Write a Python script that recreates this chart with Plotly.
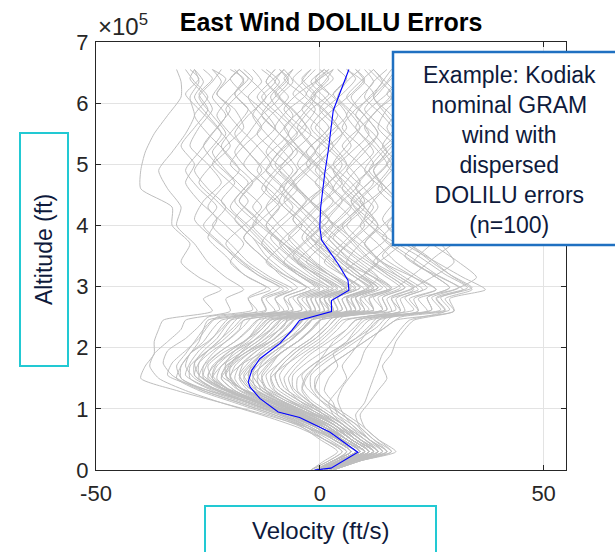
import plotly.graph_objects as go

# Altitude levels (ft) for the two sampling grids of the dispersed profiles
ALT_FT_A = [0, 15000, 30000, 50000, 70000, 90000, 110000, 130000, 150000, 170000,
            190000, 210000, 230000, 245000, 260000, 280000, 295000, 315000, 340000, 370000,
            400000, 430000, 460000, 490000, 520000, 550000, 580000, 610000, 635000, 655000]
ALT_FT_B = [0, 15000, 30000, 50000, 75000, 95000, 115000, 135000, 155000, 175000,
            195000, 215000, 235000, 250000, 262000, 282000, 298000, 320000, 350000, 380000,
            410000, 440000, 470000, 500000, 530000, 560000, 590000, 615000, 640000, 655000]

# Dispersed DOLILU east-wind profiles (ft/s) sampled on grid A, one row per case
CASES_A = [
    [1, 6, 10, 4, -3, -12, -22, -32, -40, -39, -37, -37, -36, -35, -24, -26, -22, -27, -31, -29, -33, -33, -40, -40, -39, -37, -34, -31, -31, -32],
    [2, 7, 12, 8, 4, -1, -6, -10, -11, -8, -4, 0, 3, 5, 18, 16, 22, 18, 12, 8, 5, 9, 14, 12, 16, 20, 18, 22, 25, 23],
    [1, 6, 11, 7, 3, -2, -8, -12, -13, -11, -9, -5, -2, 0, 10, 9, 15, 12, 6, 9, 13, 10, 6, 3, 7, 11, 8, 4, 6, 9],
    [0, 4, 8, 4, -1, -7, -14, -20, -24, -25, -22, -17, -13, -11, 2, 1, 6, 3, -3, -8, -12, -9, -13, -10, -6, -9, -13, -10, -7, -9],
    [1, 7, 13, 9, 5, 1, -3, -6, -7, -5, -2, 2, 6, 8, 22, 20, 26, 21, 14, 10, 14, 18, 15, 11, 14, 18, 16, 12, 15, 17],
    [2, 6, 10, 6, 2, -4, -10, -15, -17, -15, -13, -9, -6, -4, 6, 5, 10, 13, 9, 4, 0, -4, -8, -5, -1, -4, -8, -11, -8, -6],
    [1, 6, 11, 8, 4, 0, -4, -7, -8, -6, -3, 1, 4, 6, 16, 15, 20, 25, 30, 27, 23, 26, 22, 25, 28, 24, 21, 24, 27, 25],
    [2, 8, 14, 10, 6, 2, -2, -5, -5, -2, 2, 6, 9, 11, 24, 22, 30, 35, 31, 25, 20, 24, 20, 24, 21, 17, 21, 25, 22, 24],
    [1, 5, 10, 6, 2, -3, -9, -14, -16, -14, -11, -7, -4, -2, 7, 6, 11, 8, 3, 6, 10, 7, 3, 6, 10, 13, 10, 6, 9, 12],
    [3, 9, 16, 12, 9, 5, 2, -1, -1, 2, 6, 10, 14, 17, 30, 29, 37, 32, 26, 19, 15, 18, 14, 10, 13, 17, 14, 10, 12, 15],
    [-1, 3, 6, 2, -3, -9, -16, -23, -28, -30, -29, -25, -22, -20, -8, -10, -6, -11, -16, -20, -24, -21, -25, -28, -25, -22, -25, -28, -26, -28],
    [0, 4, 8, 4, 0, -6, -13, -20, -24, -22, -18, -14, -11, -9, 1, 0, 5, 1, -5, -1, 3, -1, -5, -9, -6, -2, -5, -9, -12, -10],
    [0, 5, 10, 6, 1, -6, -14, -21, -26, -26, -24, -21, -18, -17, -3, -5, 0, -4, -9, -13, -10, -6, -10, -14, -11, -7, -10, -14, -11, -8],
    [-1, 3, 7, 3, -2, -9, -17, -25, -31, -31, -29, -26, -24, -22, -10, -12, -7, -12, -17, -21, -17, -13, -17, -21, -24, -21, -24, -27, -24, -22],
    [0, 5, 9, 5, 1, -5, -12, -17, -19, -18, -15, -11, -8, -6, 4, 3, 8, 4, -1, -5, -9, -12, -9, -5, -8, -12, -15, -12, -9, -12],
    [-1, 3, 6, 1, -5, -13, -22, -30, -36, -38, -37, -34, -31, -30, -20, -21, -17, -21, -25, -28, -32, -31, -34, -36, -33, -30, -28, -29, -27, -28],
    [0, 4, 9, 5, 0, -6, -13, -19, -22, -21, -17, -13, -10, -8, 2, 0, 5, 9, 13, 10, 6, 10, 7, 3, -1, 2, 6, 3, -1, 2],
    [0, 5, 10, 6, 1, -6, -14, -21, -24, -23, -20, -16, -13, -11, -1, -2, 3, -2, -7, -11, -15, -12, -8, -12, -16, -19, -16, -12, -15, -18],
    [-1, 3, 7, 3, -2, -8, -16, -24, -29, -29, -26, -22, -19, -17, -6, -7, -2, -7, -12, -8, -4, -8, -12, -9, -5, -9, -13, -16, -13, -15],
    [0, 4, 8, 4, -1, -7, -14, -21, -25, -24, -21, -17, -14, -12, -2, -3, 2, -3, -8, -4, 0, -4, -8, -12, -9, -5, -9, -13, -10, -13],
    [1, 5, 10, 6, 2, -4, -11, -16, -18, -16, -13, -9, -6, -4, 6, 5, 10, 6, 1, 5, 9, 13, 10, 6, 9, 13, 10, 7, 10, 8],
    [1, 6, 11, 7, 3, -2, -8, -13, -14, -12, -9, -5, -2, 0, 12, 11, 16, 12, 7, 3, -1, -5, -9, -6, -10, -14, -11, -7, -10, -8],
    [0, 5, 9, 5, 0, -6, -13, -19, -22, -20, -17, -12, -9, -7, 3, 2, 7, 3, -2, -7, -11, -15, -12, -16, -19, -16, -13, -9, -12, -10],
    [-2, 2, 5, 1, -4, -11, -19, -27, -32, -31, -29, -27, -26, -25, -14, -16, -11, -16, -20, -17, -21, -25, -22, -18, -21, -25, -28, -25, -28, -30],
    [0, 5, 10, 6, 1, -5, -12, -18, -20, -19, -16, -12, -9, -7, 3, 1, 6, 2, -3, 1, 5, 9, 5, 1, -3, 1, 4, 1, -2, 1],
    [2, 8, 15, 12, 9, 8, 10, 11, 12, 13, 14, 16, 18, 20, 28, 26, 32, 27, 21, 25, 29, 26, 22, 25, 21, 18, 21, 24, 21, 23],
    [1, 7, 13, 10, 6, 3, 2, 4, 6, 5, 7, 9, 11, 13, 22, 21, 26, 22, 17, 13, 9, 12, 8, 11, 15, 12, 8, 11, 14, 12],
    [2, 8, 14, 11, 7, 4, 3, 1, 2, 4, 3, 6, 8, 10, 19, 18, 23, 19, 14, 10, 13, 9, 5, 8, 12, 9, 6, 9, 12, 10],
    [1, 7, 12, 9, 5, 1, -2, -4, -3, -1, 1, 3, 6, 8, 18, 17, 21, 17, 12, 16, 20, 17, 13, 16, 19, 22, 19, 16, 19, 17],
    [3, 9, 16, 13, 10, 9, 11, 13, 15, 14, 16, 17, 19, 21, 30, 28, 34, 30, 25, 20, 16, 19, 15, 12, 15, 18, 15, 12, 14, 16],
    [0, 5, 10, 6, 1, -5, -11, -17, -20, -20, -18, -15, -12, -10, 1, 0, 5, 1, -4, -8, -12, -9, -5, -8, -12, -9, -6, -9, -6, -8],
    [-1, 4, 8, 4, -1, -8, -16, -23, -27, -26, -23, -19, -16, -14, -2, -4, 1, -3, -8, -12, -16, -20, -17, -13, -16, -20, -23, -20, -17, -19],
    [1, 6, 11, 7, 3, -3, -9, -14, -15, -13, -10, -7, -4, -2, 8, 7, 12, 8, 3, -1, 3, 7, 3, -1, 2, 5, 2, -2, 1, 3],
    [0, 5, 9, 5, 0, -6, -13, -20, -23, -22, -19, -15, -12, -10, 0, -1, 4, 0, -5, -9, -5, -1, 3, 0, -4, -7, -4, -1, -4, -2],
    [-1, 3, 7, 3, -3, -10, -18, -26, -31, -32, -30, -28, -26, -24, -12, -13, -8, -13, -18, -22, -26, -23, -27, -30, -27, -24, -21, -24, -22, -24],
]

# Dispersed DOLILU east-wind profiles (ft/s) sampled on grid B, one row per case
CASES_B = [
    [0, 5, 9, 6, 1, -5, -11, -18, -22, -20, -16, -12, -8, -7, 8, 6, 12, 9, 4, -2, -6, -3, 2, 5, 1, -4, -8, -5, 0, 3],
    [-1, 3, 7, 3, -2, -9, -17, -25, -30, -29, -27, -24, -22, -20, -6, -8, -3, -7, -12, -15, -19, -16, -20, -24, -21, -17, -19, -23, -20, -18],
    [3, 9, 15, 11, 8, 4, 0, -3, -4, -1, 3, 8, 12, 14, 28, 26, 33, 28, 22, 15, 10, 12, 16, 20, 17, 13, 15, 19, 22, 20],
    [-2, 2, 5, 1, -4, -10, -18, -27, -34, -33, -30, -27, -25, -23, -12, -13, -9, -14, -19, -24, -28, -26, -22, -25, -29, -27, -24, -26, -29, -28],
    [0, 5, 9, 5, 0, -6, -13, -19, -21, -19, -15, -10, -7, -5, 4, 3, 8, 5, 0, -4, -1, 3, -1, -5, -2, 2, -2, -6, -3, -1],
    [-1, 4, 8, 3, -2, -8, -15, -22, -27, -28, -26, -23, -21, -19, -9, -10, -5, -9, -13, -17, -14, -18, -15, -11, -14, -18, -21, -18, -15, -17],
    [0, 4, 9, 5, 1, -5, -12, -18, -20, -17, -12, -7, -3, -1, 12, 10, 16, 11, 5, 0, -4, -8, -5, -1, 3, 0, -4, -1, 3, 1],
    [-2, 1, 4, 0, -5, -12, -20, -28, -33, -35, -34, -30, -27, -25, -15, -16, -12, -17, -21, -25, -23, -27, -30, -28, -31, -28, -25, -27, -24, -26],
    [0, 5, 9, 5, 0, -7, -15, -22, -25, -23, -19, -14, -10, -8, 3, 2, 7, 2, -4, -10, -15, -19, -16, -20, -17, -13, -16, -19, -17, -20],
    [1, 6, 10, 6, 1, -5, -11, -16, -18, -16, -13, -9, -5, -3, 5, 4, 9, 5, 1, -3, 1, 5, 9, 6, 2, -2, 1, 5, 8, 6],
    [2, 7, 12, 8, 4, -1, -7, -11, -12, -9, -6, -2, 1, 3, 14, 13, 18, 14, 8, 3, 7, 3, -1, 3, 7, 4, 0, 3, 6, 4],
    [1, 6, 12, 8, 3, -2, -7, -12, -14, -13, -10, -6, -3, -1, 11, 9, 14, 10, 15, 20, 24, 21, 17, 20, 24, 27, 24, 20, 22, 25],
    [2, 7, 13, 9, 5, 1, -4, -8, -9, -7, -4, 0, 3, 5, 17, 16, 21, 17, 12, 7, 2, -2, 2, 6, 3, -1, 3, 7, 10, 8],
    [1, 6, 11, 7, 3, -3, -9, -13, -15, -12, -8, -4, -1, 1, 9, 8, 13, 9, 4, 0, 4, 8, 12, 9, 5, 9, 13, 16, 13, 11],
    [2, 8, 15, 11, 7, 3, 0, -2, -2, 1, 5, 9, 13, 15, 27, 25, 31, 26, 20, 14, 10, 7, 11, 15, 12, 8, 11, 15, 18, 16],
    [1, 5, 10, 6, 2, -4, -10, -15, -17, -15, -12, -8, -5, -3, 7, 6, 11, 7, 2, -2, -6, -2, 2, -1, -5, -8, -4, -1, -4, -2],
    [2, 7, 12, 9, 5, 1, -3, -6, -6, -3, 1, 5, 8, 10, 21, 19, 24, 20, 14, 18, 22, 19, 23, 27, 24, 20, 17, 20, 24, 22],
    [1, 6, 11, 7, 2, -4, -10, -16, -18, -17, -14, -10, -7, -5, 5, 4, 9, 5, 10, 15, 11, 7, 11, 15, 18, 14, 10, 13, 16, 19],
    [1, 6, 12, 8, 4, 0, -5, -9, -10, -8, -5, -1, 2, 4, 15, 14, 19, 15, 9, 4, 0, 4, 8, 12, 9, 5, 8, 12, 9, 6],
    [2, 7, 13, 10, 6, 2, -2, -4, -3, 0, 4, 8, 11, 13, 25, 24, 29, 25, 19, 24, 28, 25, 21, 24, 28, 25, 21, 18, 21, 24],
    [0, 5, 9, 5, 0, -7, -15, -23, -27, -27, -25, -22, -19, -17, -4, -6, -1, -5, -10, -14, -18, -22, -19, -23, -26, -23, -20, -23, -21, -24],
    [0, 4, 8, 4, -1, -8, -16, -24, -28, -27, -24, -20, -17, -15, -4, -5, 0, -5, -10, -15, -19, -23, -27, -24, -20, -23, -27, -30, -27, -29],
    [3, 9, 17, 13, 9, 5, 1, -1, 0, 3, 7, 11, 15, 18, 29, 27, 34, 29, 24, 18, 14, 17, 21, 18, 14, 17, 21, 24, 21, 19],
    [1, 6, 11, 7, 3, -3, -9, -14, -16, -14, -10, -6, -3, -1, 10, 8, 13, 8, 3, -2, 2, -2, -6, -2, 2, 6, 3, -1, 2, 0],
    [1, 6, 12, 8, 4, -1, -6, -10, -11, -9, -6, -2, 1, 3, 14, 12, 17, 21, 26, 31, 27, 23, 19, 22, 18, 15, 18, 22, 19, 17],
    [1, 6, 12, 8, 4, -2, -8, -13, -15, -14, -11, -7, -4, -2, 9, 8, 13, 9, 4, 8, 12, 9, 13, 16, 13, 10, 13, 17, 14, 12],
    [0, 4, 9, 5, 0, -7, -14, -21, -24, -23, -20, -16, -13, -11, -1, -2, 3, -1, -6, -2, 2, -2, -6, -10, -7, -3, -6, -10, -7, -9],
    [2, 7, 13, 9, 5, 0, -5, -9, -10, -8, -5, -1, 2, 4, 15, 14, 19, 15, 10, 6, 2, 5, 1, -3, 0, 4, 1, -3, 0, 2],
    [0, 5, 10, 6, 1, -5, -12, -18, -21, -20, -17, -13, -10, -8, 2, 1, 6, 2, -3, -7, -3, 1, 5, 2, -2, -5, -2, 2, -1, 1],
    [1, 6, 11, 7, 3, -3, -9, -14, -16, -15, -12, -8, -5, -3, 8, 7, 12, 8, 3, -1, -5, -9, -6, -2, -6, -10, -7, -3, -6, -4],
    [-1, 3, 7, 3, -2, -9, -17, -24, -28, -28, -25, -22, -20, -18, -7, -8, -3, -8, -13, -17, -13, -9, -13, -17, -14, -10, -13, -17, -20, -18],
    [2, 8, 14, 11, 7, 5, 4, 5, 7, 9, 10, 12, 14, 16, 25, 24, 29, 25, 19, 14, 18, 22, 19, 15, 18, 22, 19, 15, 18, 20],
    [0, 5, 9, 5, 0, -6, -12, -18, -21, -21, -19, -16, -14, -12, 0, -1, 4, -1, -6, -10, -14, -18, -15, -19, -22, -19, -16, -19, -16, -18],
    [1, 6, 11, 7, 3, -2, -8, -12, -13, -11, -8, -4, -1, 1, 12, 11, 16, 12, 6, 2, 6, 10, 7, 3, 6, 9, 6, 3, 6, 4],
    [0, 4, 8, 4, -1, -7, -15, -22, -26, -25, -22, -18, -15, -13, -2, -3, 2, -2, -7, -11, -7, -3, -7, -11, -8, -4, -1, -4, -8, -6],
]

# Nominal Kodiak GRAM east-wind profile
NOMINAL_ALT_FT = [0, 3000, 29000, 62000, 86000, 95000, 117000, 136000, 144000, 163000,
                  182000, 207000, 228000, 245000, 259000, 277000, 294000, 310000, 337000, 359000,
                  376000, 397000, 430000, 485000, 523000, 588000, 616000, 655000]
NOMINAL_VEL = [-1.2, 2.5, 8.5, 2.2, -4.5, -9.3, -13.4, -15.6, -16.0, -15.2,
               -13.4, -8.9, -6.3, -4.5, 2.6, 2.6, 6.5, 6.3, 4.1, 1.9,
               0.4, 0.0, 0.2, 1.1, 1.9, 3.0, 4.5, 6.5]

X_TICKS = [-50, 0, 50]
X_TICK_TEXT = ["-50", "0", "50"]
Y_TICKS = [0, 100000, 200000, 300000, 400000, 500000, 600000, 700000]
Y_TICK_TEXT = ["0", "1", "2", "3", "4", "5", "6", "7"]

FONT = "Liberation Sans, Arial, Helvetica, sans-serif"
INK = "#262626"
NAVY = "#0e1a3c"
GRAY = "#bebebe"

fig = go.Figure()


def gapped(cases, alt):
    """Join several profiles into one polyline list, split by gaps."""
    xs, ys = [], []
    for row in cases:
        xs.extend(row + [None])
        ys.extend(alt + [None])
    return xs, ys


for cases, alt in ((CASES_A, ALT_FT_A), (CASES_B, ALT_FT_B)):
    xs, ys = gapped(cases, alt)
    fig.add_trace(go.Scatter(x=xs, y=ys, mode="lines", connectgaps=False,
                             line=dict(color=GRAY, width=1, shape="spline", smoothing=0.6),
                             hoverinfo="skip"))

fig.add_trace(go.Scatter(x=NOMINAL_VEL, y=NOMINAL_ALT_FT, mode="lines",
                         line=dict(color="#0000ff", width=1.1), hoverinfo="skip"))

axis_common = dict(showline=True, linecolor=INK, linewidth=1, mirror="ticks",
                   ticks="inside", ticklen=5, tickcolor=INK, showgrid=True,
                   gridcolor="#e3e3e3", gridwidth=1, zeroline=False,
                   tickfont=dict(family=FONT, size=22, color=INK))

fig.update_layout(
    width=615, height=552,
    margin=dict(l=96, r=49, t=42, b=82),
    paper_bgcolor="white", plot_bgcolor="white",
    showlegend=False,
    xaxis=dict(range=[-50, 55], tickvals=X_TICKS, ticktext=X_TICK_TEXT,
               ticklabelstandoff=4, **axis_common),
    yaxis=dict(range=[0, 700000], tickvals=Y_TICKS, ticktext=Y_TICK_TEXT,
               ticklabelstandoff=2, **axis_common),
    title=dict(text="<b>East Wind DOLILU Errors</b>", x=331 / 615, xanchor="center",
               y=1 - 22 / 552, yanchor="middle",
               font=dict(family=FONT, size=25, color="black")),
)


def px_x(p):
    return (p - 96) / 470


def px_y(p):
    return (470 - p) / 428


shapes = [
    # example note box
    dict(type="rect", xref="paper", yref="paper", x0=px_x(393), x1=px_x(640),
         y0=px_y(245), y1=px_y(52), fillcolor="white",
         line=dict(color="#1f70c1", width=2.5), layer="above"),
    # y-axis label frame
    dict(type="rect", xref="paper", yref="paper", x0=px_x(20), x1=px_x(68),
         y0=px_y(366), y1=px_y(133), line=dict(color="#22c9d3", width=2)),
    # x-axis label frame
    dict(type="rect", xref="paper", yref="paper", x0=px_x(205), x1=px_x(436),
         y0=px_y(580), y1=px_y(506), line=dict(color="#22c9d3", width=2)),
]
fig.update_layout(shapes=shapes)

fig.add_annotation(text="×10<sup>5</sup>", xref="paper", yref="paper",
                   x=px_x(96), y=1, xanchor="left", yanchor="bottom", showarrow=False,
                   font=dict(family=FONT, size=24, color=INK))
fig.add_annotation(text="Example: Kodiak<br>nominal GRAM<br>wind with<br>dispersed<br>DOLILU errors<br>(n=100)",
                   xref="paper", yref="paper", x=px_x(509), y=px_y(149.5),
                   xanchor="center", yanchor="middle", showarrow=False, align="center",
                   font=dict(family=FONT, size=23, color=NAVY))
fig.add_annotation(text="Altitude (ft)", xref="paper", yref="paper",
                   x=px_x(44), y=px_y(250), textangle=-90, showarrow=False,
                   xanchor="center", yanchor="middle",
                   font=dict(family=FONT, size=23, color=NAVY))
fig.add_annotation(text="Velocity (ft/s)", xref="paper", yref="paper",
                   x=px_x(320), y=px_y(530), showarrow=False,
                   xanchor="center", yanchor="middle",
                   font=dict(family=FONT, size=24, color=NAVY))

fig.write_html("out.html")
